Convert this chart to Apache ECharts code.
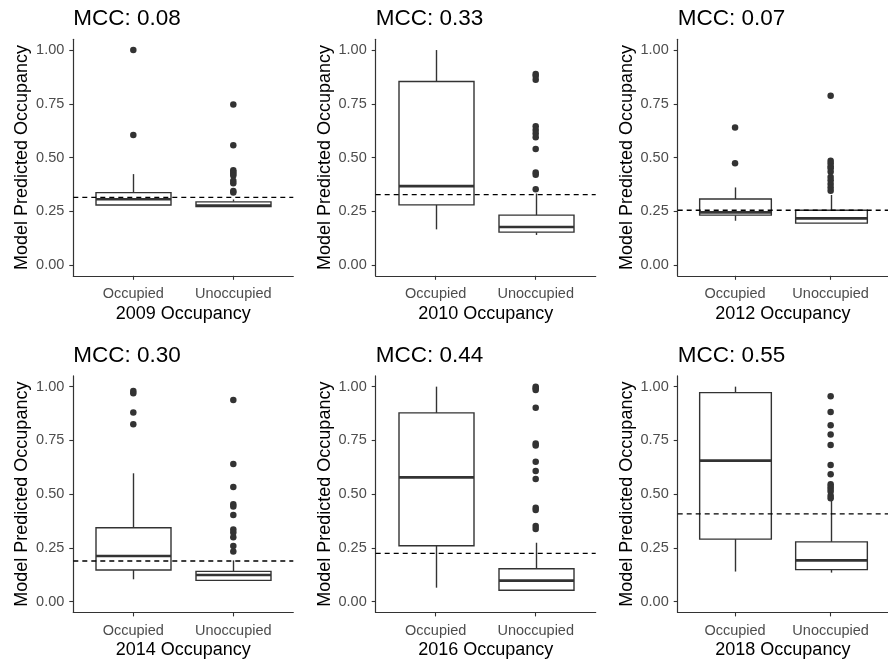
<!DOCTYPE html>
<html>
<head>
<meta charset="utf-8">
<script src="https://cdn.jsdelivr.net/npm/echarts@6/dist/echarts.min.js"></script>
<style>
  html, body { margin: 0; padding: 0; background: #ffffff; }
  #chart { width: 888px; height: 662px; }
</style>
</head>
<body>
<div id="chart"></div>
<script>
// Survey years, one panel each
const years = ['2009', '2010', '2012', '2014', '2016', '2018'];
const mccLabels = ['0.08', '0.33', '0.07', '0.30', '0.44', '0.55'];
// Classification threshold per year (dashed line)
const thresholds = [0.315, 0.328, 0.255, 0.189, 0.225, 0.408];
const categories = ['Occupied', 'Unoccupied'];
const yTicks = [0, 0.25, 0.5, 0.75, 1];

// Box statistics: [lower whisker, Q1, median, Q3, upper whisker]
const occupiedStats = [
  [0.279, 0.279, 0.306, 0.337, 0.423],
  [0.166, 0.280, 0.367, 0.854, 1.000],
  [0.206, 0.232, 0.245, 0.307, 0.361],
  [0.104, 0.147, 0.212, 0.344, 0.597],
  [0.065, 0.260, 0.578, 0.878, 1.000],
  [0.140, 0.291, 0.656, 0.972, 1.000]
];
const unoccupiedStats = [
  [0.272, 0.272, 0.277, 0.294, 0.305],
  [0.140, 0.153, 0.177, 0.232, 0.333],
  [0.195, 0.195, 0.217, 0.255, 0.326],
  [0.099, 0.099, 0.124, 0.141, 0.192],
  [0.053, 0.053, 0.098, 0.153, 0.274],
  [0.135, 0.149, 0.192, 0.278, 0.476]
];
// Outlying predictions beyond the whiskers
const occupiedOutliers = [
  [1.000, 0.605],
  [],
  [0.640, 0.473],
  [0.980, 0.969, 0.880, 0.825],
  [],
  []
];
const unoccupiedOutliers = [
  [0.747, 0.557, 0.441, 0.433, 0.425, 0.416, 0.392, 0.380, 0.345, 0.337],
  [0.889, 0.879, 0.862, 0.646, 0.628, 0.612, 0.594, 0.540, 0.431, 0.420, 0.352],
  [0.788, 0.485, 0.473, 0.460, 0.450, 0.434, 0.410, 0.395, 0.377, 0.361, 0.346],
  [0.938, 0.640, 0.533, 0.453, 0.442, 0.403, 0.336, 0.322, 0.299, 0.259, 0.233],
  [1.000, 0.992, 0.985, 0.902, 0.736, 0.726, 0.651, 0.608, 0.571, 0.437, 0.426, 0.352, 0.338],
  [0.955, 0.882, 0.820, 0.778, 0.729, 0.636, 0.592, 0.546, 0.535, 0.524, 0.512, 0.493, 0.481]
];

const FONT = '"Liberation Sans", Arial, sans-serif';
const INK = '#333333';
const TICK_TEXT = '#4D4D4D';

// Panel placement
const colLeft = [73.3, 375.7, 677.7];
const rowTop = [39.3, 375.9];
const panelW = 220;
const panelH = 236.5;

function renderBox(params, api) {
  const x = api.value(0);
  const half = api.size([0.75, 0])[0] / 2;
  const lo = api.coord([x, api.value(1)]);
  const q1 = api.coord([x, api.value(2)]);
  const med = api.coord([x, api.value(3)]);
  const q3 = api.coord([x, api.value(4)]);
  const hi = api.coord([x, api.value(5)]);
  const cx = Math.round(q1[0]) + 0.5;
  const lineStyle = { stroke: INK, lineWidth: 1.4, fill: null };
  return {
    type: 'group',
    children: [
      { type: 'line', shape: { x1: cx, y1: q3[1], x2: cx, y2: hi[1] }, style: lineStyle },
      { type: 'line', shape: { x1: cx, y1: q1[1], x2: cx, y2: lo[1] }, style: lineStyle },
      { type: 'rect', shape: { x: cx - half, y: q3[1], width: half * 2, height: q1[1] - q3[1] },
        style: { stroke: INK, lineWidth: 1.4, fill: '#ffffff' } },
      { type: 'line', shape: { x1: cx - half, y1: med[1], x2: cx + half, y2: med[1] },
        style: { stroke: INK, lineWidth: 2.6 } }
    ]
  };
}

const grids = [], xAxes = [], yAxes = [], series = [], titles = [];

years.forEach((year, i) => {
  const col = i % 3, row = Math.floor(i / 3);
  grids.push({ left: colLeft[col], top: rowTop[row], width: panelW, height: panelH });

  titles.push({
    text: 'MCC: ' + mccLabels[i],
    left: colLeft[col],
    top: rowTop[row] - 32,
    padding: 0,
    textStyle: { fontFamily: FONT, fontSize: 22.5, fontWeight: 'normal', color: '#000000' }
  });

  xAxes.push({
    type: 'value', gridIndex: i, min: 0.4, max: 2.6,
    name: year + ' Occupancy', nameLocation: 'middle', nameGap: 29,
    nameTextStyle: { fontFamily: FONT, fontSize: 18, color: '#000000' },
    axisLine: { show: true, onZero: false, lineStyle: { color: INK, width: 1.2 } },
    axisTick: { show: true, length: 4, customValues: [1, 2], lineStyle: { color: INK, width: 1.1 } },
    axisLabel: {
      customValues: [1, 2], margin: 11,
      fontFamily: FONT, fontSize: 14.5, color: TICK_TEXT,
      formatter: v => categories[Math.round(v) - 1]
    },
    splitLine: { show: false }
  });

  yAxes.push({
    type: 'value', gridIndex: i, min: -0.05, max: 1.05,
    name: 'Model Predicted Occupancy', nameLocation: 'middle', nameGap: 42,
    nameTextStyle: { fontFamily: FONT, fontSize: 18, color: '#000000' },
    axisLine: { show: true, onZero: false, lineStyle: { color: INK, width: 1.2 } },
    axisTick: { show: true, length: 4, customValues: yTicks, lineStyle: { color: INK, width: 1.1 } },
    axisLabel: {
      customValues: yTicks, margin: 9,
      fontFamily: FONT, fontSize: 14.5, color: TICK_TEXT,
      formatter: v => v.toFixed(2)
    },
    splitLine: { show: false }
  });

  series.push({
    type: 'custom', xAxisIndex: i, yAxisIndex: i,
    renderItem: renderBox,
    encode: { x: 0, y: [1, 2, 3, 4, 5] },
    data: [[1].concat(occupiedStats[i]), [2].concat(unoccupiedStats[i])],
    z: 2, silent: true
  });

  const pts = occupiedOutliers[i].map(v => [1, v])
    .concat(unoccupiedOutliers[i].map(v => [2, v]));
  series.push({
    type: 'scatter', xAxisIndex: i, yAxisIndex: i,
    data: pts, symbolSize: 6.5,
    itemStyle: { color: INK, opacity: 1 },
    z: 3, silent: true
  });

  series.push({
    type: 'line', xAxisIndex: i, yAxisIndex: i,
    data: [[0.4, thresholds[i]], [2.6, thresholds[i]]],
    symbol: 'none',
    lineStyle: { color: '#000000', width: 1.3, type: [5, 4] },
    z: 4, silent: true
  });
});

const chart = echarts.init(document.getElementById('chart'), null, { renderer: 'canvas' });
chart.setOption({
  animation: false,
  backgroundColor: '#ffffff',
  title: titles,
  grid: grids,
  xAxis: xAxes,
  yAxis: yAxes,
  series: series
});
</script>
</body>
</html>
